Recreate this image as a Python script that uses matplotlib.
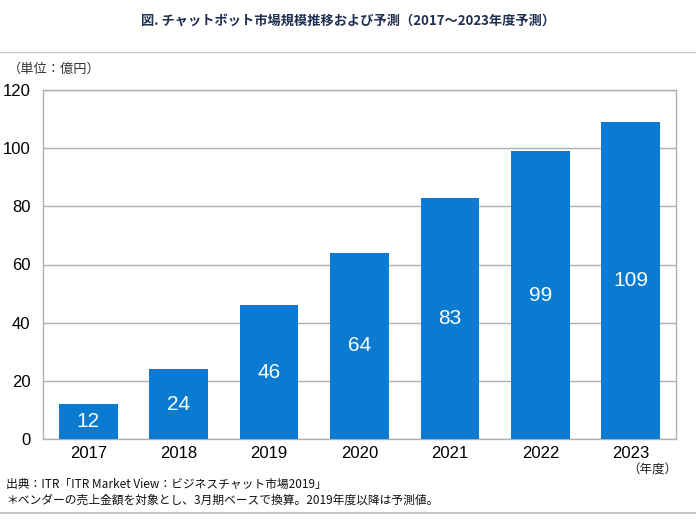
import matplotlib.pyplot as plt
from matplotlib.lines import Line2D

years = ['2017', '2018', '2019', '2020', '2021', '2022', '2023']
market = [12, 24, 46, 64, 83, 99, 109]
yticks = [0, 20, 40, 60, 80, 100, 120]

title = '図. チャットボット市場規模推移および予測（2017～2023年度予測）'
unit = '（単位：億円）'
note1 = '出典：ITR「ITR Market View：ビジネスチャット市場2019」'
note2 = '＊ベンダーの売上金額を対象とし、3月期ベースで換算。2019年度以降は予測値。'

num_font = ['Liberation Sans', 'Noto Sans CJK JP']
jp_font = ['Noto Sans CJK JP', 'DejaVu Sans']
plt.rcParams['font.family'] = jp_font

bar_color = '#0a7bd0'
frame_color = '#b0b0b0'

fig = plt.figure(figsize=(6.96, 5.22), dpi=100)
ax = fig.add_axes([43/696, 1 - 439/522, (676-43)/696, (439-90)/522])

x = range(len(years))
ax.bar(x, market, width=0.65, color=bar_color, zorder=3)
for i, v in enumerate(market):
    ax.text(i, v/2, str(v), ha='center', va='center', color='white',
            fontsize=15, family=num_font, zorder=4)

ax.set_xlim(-0.5, len(years) - 0.5)
ax.set_ylim(0, 120)
ax.set_yticks(yticks)
ax.set_yticklabels([str(t) for t in yticks], family=num_font, fontsize=12)
ax.set_xticks(list(x))
ax.set_xticklabels(years, family=num_font, fontsize=12)
ax.tick_params(length=0, pad=5)
ax.tick_params(axis='y', pad=9)
ax.yaxis.grid(True, color=frame_color, linewidth=1, zorder=0)
for s in ax.spines.values():
    s.set_color(frame_color)
    s.set_linewidth(1)

fig.text(0.5, 1 - 22/522, title, ha='center', va='center', fontsize=9.5,
         fontweight='bold', color='#1f2f4f')
fig.text(8/696, 1 - 69/522, unit, ha='left', va='center', fontsize=9.5, color='#333333')
fig.text(652/696, 1 - 470/522, '（年度）', ha='center', va='center', fontsize=9, color='#222222')
fig.text(6/696, 1 - 484/522, note1, ha='left', va='center', fontsize=8.5, color='#111111')
fig.text(6/696, 1 - 500/522, note2, ha='left', va='center', fontsize=8.5, color='#111111')

fig.add_artist(Line2D([0, 1], [1 - 52/522, 1 - 52/522], color='#c8c8c8', linewidth=1))
fig.add_artist(Line2D([0, 1], [1 - 513/522, 1 - 513/522], color='#c8c8c8', linewidth=1.5))

fig.savefig('out.png', dpi=100)
